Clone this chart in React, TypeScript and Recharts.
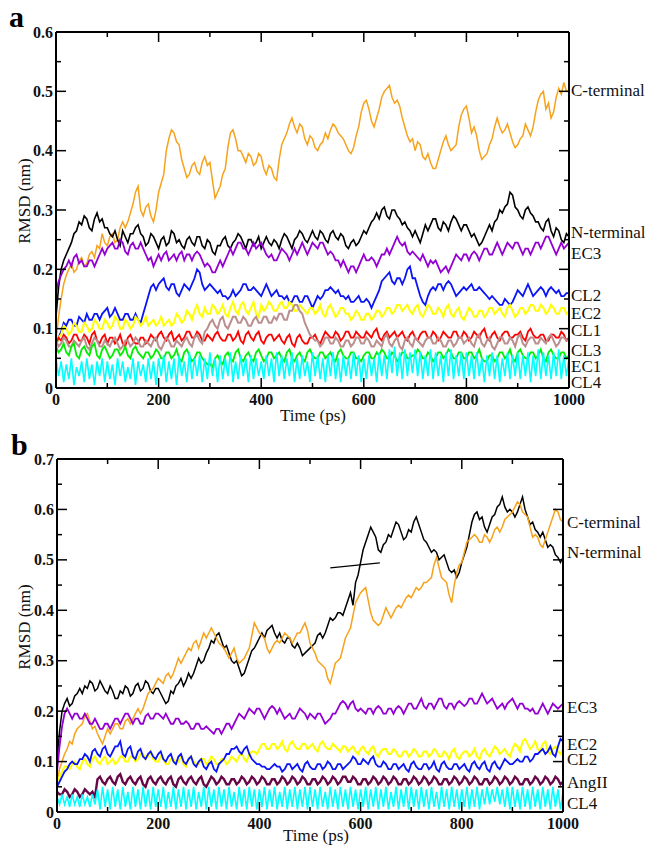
import { Line, LineChart, XAxis, YAxis } from "recharts";

const FONT = '"Liberation Serif", "Times New Roman", serif';

// Time axis, ps (one frame every 5 ps)
const TIME_PS = [
  0, 5, 10, 15, 20, 25, 30, 35, 40, 45, 50, 55, 60, 65, 70, 75, 80, 85, 90, 95,
  100, 105, 110, 115, 120, 125, 130, 135, 140, 145, 150, 155, 160, 165, 170, 175, 180, 185, 190, 195,
  200, 205, 210, 215, 220, 225, 230, 235, 240, 245, 250, 255, 260, 265, 270, 275, 280, 285, 290, 295,
  300, 305, 310, 315, 320, 325, 330, 335, 340, 345, 350, 355, 360, 365, 370, 375, 380, 385, 390, 395,
  400, 405, 410, 415, 420, 425, 430, 435, 440, 445, 450, 455, 460, 465, 470, 475, 480, 485, 490, 495,
  500, 505, 510, 515, 520, 525, 530, 535, 540, 545, 550, 555, 560, 565, 570, 575, 580, 585, 590, 595,
  600, 605, 610, 615, 620, 625, 630, 635, 640, 645, 650, 655, 660, 665, 670, 675, 680, 685, 690, 695,
  700, 705, 710, 715, 720, 725, 730, 735, 740, 745, 750, 755, 760, 765, 770, 775, 780, 785, 790, 795,
  800, 805, 810, 815, 820, 825, 830, 835, 840, 845, 850, 855, 860, 865, 870, 875, 880, 885, 890, 895,
  900, 905, 910, 915, 920, 925, 930, 935, 940, 945, 950, 955, 960, 965, 970, 975, 980, 985, 990, 995,
  1000,
];

const X_TICKS = [0, 100, 200, 300, 400, 500, 600, 700, 800, 900, 1000];
const Y_TICKS_A = [0, 0.05, 0.1, 0.15, 0.2, 0.25, 0.3, 0.35, 0.4, 0.45, 0.5, 0.55, 0.6];
const Y_TICKS_B = [0, 0.05, 0.1, 0.15, 0.2, 0.25, 0.3, 0.35, 0.4, 0.45, 0.5, 0.55, 0.6, 0.65, 0.7];

// ---- panel a, RMSD (nm) ----
const A_CTERM = [
  0.08, 0.12, 0.15, 0.175, 0.19, 0.2, 0.21, 0.195, 0.2, 0.215, 0.22, 0.205, 0.21, 0.225, 0.23, 0.22, 0.24, 0.235, 0.26, 0.245,
  0.24, 0.255, 0.26, 0.245, 0.25, 0.27, 0.28, 0.27, 0.28, 0.295, 0.31, 0.33, 0.34, 0.3, 0.29, 0.305, 0.31, 0.29, 0.28, 0.3,
  0.33, 0.345, 0.36, 0.4, 0.42, 0.435, 0.43, 0.415, 0.41, 0.385, 0.37, 0.355, 0.36, 0.375, 0.38, 0.365, 0.36, 0.38, 0.39, 0.375,
  0.38, 0.35, 0.32, 0.33, 0.34, 0.36, 0.37, 0.405, 0.43, 0.435, 0.42, 0.4, 0.4, 0.39, 0.38, 0.395, 0.39, 0.375, 0.38, 0.395,
  0.39, 0.37, 0.36, 0.375, 0.37, 0.355, 0.35, 0.385, 0.41, 0.42, 0.43, 0.445, 0.455, 0.44, 0.43, 0.445, 0.44, 0.42, 0.41, 0.425,
  0.42, 0.405, 0.4, 0.41, 0.415, 0.43, 0.42, 0.435, 0.445, 0.44, 0.43, 0.425, 0.42, 0.41, 0.4, 0.395, 0.405, 0.425, 0.44, 0.465,
  0.48, 0.485, 0.47, 0.45, 0.44, 0.455, 0.47, 0.49, 0.5, 0.505, 0.51, 0.49, 0.48, 0.485, 0.475, 0.455, 0.44, 0.425, 0.415, 0.42,
  0.4, 0.415, 0.41, 0.39, 0.385, 0.395, 0.38, 0.37, 0.37, 0.385, 0.4, 0.415, 0.425, 0.41, 0.4, 0.405, 0.41, 0.44, 0.46, 0.47,
  0.475, 0.455, 0.43, 0.44, 0.425, 0.4, 0.385, 0.39, 0.395, 0.41, 0.42, 0.44, 0.455, 0.44, 0.43, 0.435, 0.445, 0.43, 0.415, 0.405,
  0.41, 0.42, 0.425, 0.445, 0.435, 0.425, 0.44, 0.465, 0.485, 0.495, 0.5, 0.47, 0.48, 0.455, 0.465, 0.49, 0.505, 0.495, 0.515, 0.5,
  0.5,
];
const A_NTERM = [
  0.12, 0.17, 0.2, 0.215, 0.225, 0.235, 0.245, 0.26, 0.265, 0.28, 0.275, 0.29, 0.285, 0.27, 0.265, 0.285, 0.295, 0.28, 0.285, 0.27,
  0.27, 0.26, 0.255, 0.265, 0.25, 0.24, 0.265, 0.255, 0.245, 0.26, 0.26, 0.27, 0.275, 0.26, 0.255, 0.24, 0.245, 0.26, 0.255, 0.245,
  0.235, 0.25, 0.255, 0.24, 0.245, 0.265, 0.26, 0.245, 0.25, 0.24, 0.235, 0.25, 0.255, 0.245, 0.24, 0.255, 0.255, 0.24, 0.235, 0.25,
  0.245, 0.23, 0.225, 0.24, 0.24, 0.25, 0.255, 0.24, 0.235, 0.245, 0.25, 0.26, 0.255, 0.245, 0.235, 0.25, 0.25, 0.24, 0.245, 0.255,
  0.235, 0.245, 0.255, 0.245, 0.24, 0.25, 0.245, 0.235, 0.25, 0.26, 0.255, 0.245, 0.235, 0.25, 0.255, 0.265, 0.26, 0.25, 0.245, 0.255,
  0.265, 0.255, 0.25, 0.265, 0.26, 0.25, 0.245, 0.26, 0.265, 0.255, 0.25, 0.26, 0.255, 0.24, 0.235, 0.245, 0.25, 0.24, 0.245, 0.255,
  0.265, 0.26, 0.27, 0.28, 0.285, 0.295, 0.285, 0.3, 0.305, 0.29, 0.285, 0.3, 0.3, 0.29, 0.285, 0.275, 0.28, 0.27, 0.265, 0.255,
  0.265, 0.255, 0.245, 0.26, 0.275, 0.265, 0.275, 0.285, 0.285, 0.27, 0.265, 0.28, 0.275, 0.265, 0.28, 0.29, 0.285, 0.275, 0.265, 0.275,
  0.275, 0.265, 0.255, 0.26, 0.25, 0.24, 0.245, 0.255, 0.265, 0.275, 0.265, 0.28, 0.285, 0.3, 0.295, 0.305, 0.31, 0.33, 0.325, 0.305,
  0.3, 0.29, 0.285, 0.3, 0.305, 0.295, 0.29, 0.28, 0.28, 0.27, 0.265, 0.28, 0.285, 0.265, 0.255, 0.27, 0.265, 0.25, 0.245, 0.26,
  0.255,
];
const A_EC3 = [
  0.16, 0.18, 0.19, 0.2, 0.205, 0.215, 0.205, 0.22, 0.225, 0.21, 0.215, 0.205, 0.205, 0.215, 0.215, 0.205, 0.215, 0.225, 0.235, 0.225,
  0.235, 0.24, 0.245, 0.235, 0.235, 0.25, 0.245, 0.23, 0.225, 0.24, 0.245, 0.235, 0.235, 0.245, 0.235, 0.225, 0.215, 0.22, 0.205, 0.215,
  0.225, 0.215, 0.225, 0.23, 0.215, 0.22, 0.225, 0.215, 0.225, 0.23, 0.215, 0.225, 0.225, 0.215, 0.225, 0.23, 0.225, 0.215, 0.205, 0.21,
  0.205, 0.195, 0.195, 0.205, 0.215, 0.205, 0.215, 0.225, 0.235, 0.225, 0.235, 0.245, 0.245, 0.235, 0.235, 0.225, 0.235, 0.245, 0.235, 0.24,
  0.245, 0.235, 0.225, 0.22, 0.225, 0.215, 0.215, 0.225, 0.235, 0.23, 0.225, 0.215, 0.225, 0.235, 0.225, 0.235, 0.245, 0.235, 0.225, 0.235,
  0.245, 0.24, 0.235, 0.245, 0.245, 0.235, 0.225, 0.23, 0.225, 0.215, 0.215, 0.205, 0.215, 0.205, 0.195, 0.205, 0.205, 0.195, 0.205, 0.215,
  0.225, 0.215, 0.215, 0.22, 0.215, 0.205, 0.215, 0.225, 0.225, 0.235, 0.225, 0.235, 0.245, 0.255, 0.245, 0.24, 0.245, 0.23, 0.225, 0.23,
  0.225, 0.22, 0.215, 0.225, 0.215, 0.205, 0.215, 0.21, 0.215, 0.205, 0.195, 0.2, 0.205, 0.195, 0.205, 0.215, 0.225, 0.22, 0.215, 0.225,
  0.225, 0.215, 0.225, 0.23, 0.225, 0.215, 0.225, 0.235, 0.235, 0.225, 0.225, 0.235, 0.245, 0.235, 0.225, 0.235, 0.245, 0.24, 0.235, 0.245,
  0.245, 0.235, 0.225, 0.235, 0.235, 0.225, 0.235, 0.245, 0.245, 0.235, 0.245, 0.255, 0.255, 0.245, 0.235, 0.225, 0.235, 0.245, 0.235, 0.24,
  0.245,
];
const A_CL2 = [
  0.07, 0.085, 0.095, 0.11, 0.105, 0.115, 0.115, 0.105, 0.105, 0.12, 0.115, 0.11, 0.125, 0.115, 0.115, 0.125, 0.125, 0.115, 0.125, 0.13,
  0.135, 0.12, 0.125, 0.135, 0.125, 0.115, 0.115, 0.125, 0.125, 0.115, 0.115, 0.125, 0.115, 0.11, 0.125, 0.14, 0.155, 0.17, 0.175, 0.165,
  0.175, 0.18, 0.185, 0.17, 0.165, 0.175, 0.175, 0.16, 0.155, 0.165, 0.175, 0.17, 0.165, 0.175, 0.185, 0.2, 0.195, 0.175, 0.165, 0.17,
  0.175, 0.17, 0.165, 0.16, 0.165, 0.155, 0.155, 0.15, 0.155, 0.165, 0.155, 0.16, 0.165, 0.175, 0.175, 0.165, 0.165, 0.17, 0.165, 0.16,
  0.155, 0.165, 0.175, 0.165, 0.155, 0.16, 0.165, 0.155, 0.155, 0.15, 0.155, 0.145, 0.145, 0.155, 0.155, 0.145, 0.145, 0.155, 0.155, 0.145,
  0.135, 0.145, 0.155, 0.15, 0.155, 0.165, 0.165, 0.17, 0.165, 0.16, 0.165, 0.155, 0.155, 0.15, 0.155, 0.145, 0.145, 0.15, 0.155, 0.145,
  0.145, 0.15, 0.145, 0.135, 0.145, 0.155, 0.165, 0.18, 0.185, 0.19, 0.195, 0.18, 0.175, 0.185, 0.185, 0.175, 0.185, 0.2, 0.205, 0.185,
  0.185, 0.17, 0.155, 0.145, 0.14, 0.155, 0.165, 0.17, 0.165, 0.175, 0.175, 0.165, 0.175, 0.18, 0.175, 0.165, 0.155, 0.16, 0.165, 0.17,
  0.165, 0.17, 0.175, 0.165, 0.165, 0.17, 0.165, 0.16, 0.155, 0.15, 0.155, 0.15, 0.145, 0.14, 0.14, 0.15, 0.145, 0.14, 0.145, 0.155,
  0.165, 0.16, 0.155, 0.165, 0.175, 0.165, 0.155, 0.16, 0.165, 0.17, 0.165, 0.155, 0.165, 0.17, 0.165, 0.16, 0.165, 0.155, 0.155, 0.16,
  0.16,
];
const A_EC2 = [
  0.07, 0.085, 0.09, 0.105, 0.1, 0.09, 0.095, 0.11, 0.105, 0.095, 0.095, 0.11, 0.105, 0.095, 0.1, 0.115, 0.11, 0.1, 0.1, 0.115,
  0.11, 0.1, 0.105, 0.12, 0.115, 0.1, 0.1, 0.115, 0.11, 0.1, 0.105, 0.12, 0.115, 0.105, 0.11, 0.12, 0.105, 0.11, 0.115, 0.105,
  0.11, 0.12, 0.105, 0.11, 0.115, 0.105, 0.11, 0.125, 0.12, 0.11, 0.115, 0.13, 0.125, 0.115, 0.13, 0.14, 0.125, 0.12, 0.135, 0.125,
  0.125, 0.14, 0.135, 0.125, 0.13, 0.14, 0.125, 0.12, 0.135, 0.145, 0.13, 0.125, 0.14, 0.145, 0.13, 0.125, 0.135, 0.145, 0.125, 0.12,
  0.14, 0.13, 0.135, 0.145, 0.14, 0.13, 0.13, 0.14, 0.145, 0.135, 0.135, 0.145, 0.14, 0.13, 0.13, 0.14, 0.135, 0.13, 0.125, 0.135,
  0.135, 0.125, 0.13, 0.14, 0.125, 0.12, 0.135, 0.14, 0.13, 0.12, 0.125, 0.135, 0.135, 0.125, 0.125, 0.115, 0.12, 0.13, 0.125, 0.115,
  0.115, 0.125, 0.125, 0.115, 0.12, 0.13, 0.13, 0.12, 0.125, 0.135, 0.135, 0.125, 0.13, 0.14, 0.14, 0.13, 0.135, 0.14, 0.13, 0.125,
  0.135, 0.14, 0.125, 0.12, 0.13, 0.14, 0.135, 0.125, 0.125, 0.135, 0.13, 0.12, 0.135, 0.14, 0.125, 0.12, 0.13, 0.135, 0.12, 0.115,
  0.125, 0.135, 0.13, 0.12, 0.12, 0.13, 0.13, 0.12, 0.125, 0.135, 0.135, 0.125, 0.13, 0.135, 0.125, 0.12, 0.135, 0.14, 0.13, 0.12,
  0.125, 0.135, 0.135, 0.125, 0.13, 0.14, 0.14, 0.13, 0.13, 0.14, 0.135, 0.125, 0.13, 0.14, 0.135, 0.125, 0.125, 0.135, 0.135, 0.125,
  0.13,
];
const A_CL1 = [
  0.075, 0.085, 0.08, 0.09, 0.085, 0.075, 0.08, 0.09, 0.09, 0.08, 0.08, 0.09, 0.085, 0.075, 0.09, 0.095, 0.08, 0.075, 0.085, 0.09,
  0.075, 0.085, 0.085, 0.075, 0.08, 0.09, 0.075, 0.07, 0.085, 0.09, 0.08, 0.075, 0.075, 0.085, 0.085, 0.075, 0.08, 0.09, 0.085, 0.08,
  0.09, 0.095, 0.085, 0.08, 0.09, 0.095, 0.08, 0.085, 0.09, 0.08, 0.085, 0.095, 0.095, 0.085, 0.085, 0.095, 0.09, 0.08, 0.08, 0.09,
  0.085, 0.08, 0.09, 0.095, 0.085, 0.08, 0.08, 0.09, 0.09, 0.08, 0.085, 0.095, 0.08, 0.075, 0.09, 0.095, 0.085, 0.08, 0.09, 0.095,
  0.08, 0.075, 0.085, 0.09, 0.09, 0.08, 0.085, 0.09, 0.08, 0.075, 0.085, 0.09, 0.075, 0.07, 0.085, 0.09, 0.08, 0.075, 0.075, 0.085,
  0.085, 0.09, 0.08, 0.075, 0.085, 0.095, 0.09, 0.085, 0.085, 0.095, 0.09, 0.08, 0.085, 0.095, 0.095, 0.085, 0.085, 0.095, 0.09, 0.085,
  0.085, 0.095, 0.09, 0.085, 0.095, 0.1, 0.085, 0.08, 0.09, 0.095, 0.085, 0.09, 0.095, 0.085, 0.09, 0.095, 0.085, 0.08, 0.09, 0.095,
  0.085, 0.08, 0.09, 0.095, 0.095, 0.085, 0.085, 0.095, 0.09, 0.08, 0.085, 0.095, 0.09, 0.085, 0.085, 0.095, 0.095, 0.085, 0.085, 0.095,
  0.09, 0.08, 0.085, 0.095, 0.09, 0.085, 0.095, 0.1, 0.085, 0.08, 0.09, 0.095, 0.085, 0.08, 0.09, 0.095, 0.095, 0.085, 0.085, 0.09,
  0.09, 0.095, 0.085, 0.08, 0.095, 0.1, 0.09, 0.085, 0.085, 0.09, 0.09, 0.08, 0.08, 0.09, 0.09, 0.085, 0.085, 0.095, 0.09, 0.08,
  0.085,
];
const A_CL3 = [
  0.08, 0.07, 0.075, 0.085, 0.08, 0.07, 0.07, 0.08, 0.075, 0.07, 0.08, 0.085, 0.07, 0.065, 0.075, 0.085, 0.08, 0.07, 0.07, 0.08,
  0.075, 0.07, 0.08, 0.085, 0.075, 0.065, 0.07, 0.08, 0.08, 0.07, 0.075, 0.085, 0.08, 0.07, 0.07, 0.08, 0.075, 0.07, 0.08, 0.085,
  0.07, 0.065, 0.075, 0.085, 0.08, 0.07, 0.07, 0.08, 0.075, 0.07, 0.08, 0.085, 0.075, 0.07, 0.085, 0.09, 0.08, 0.075, 0.095, 0.1,
  0.11, 0.115, 0.105, 0.1, 0.115, 0.12, 0.105, 0.1, 0.11, 0.12, 0.12, 0.11, 0.11, 0.12, 0.115, 0.105, 0.105, 0.115, 0.12, 0.11,
  0.11, 0.12, 0.12, 0.11, 0.11, 0.12, 0.115, 0.125, 0.125, 0.115, 0.115, 0.13, 0.13, 0.14, 0.14, 0.13, 0.125, 0.11, 0.1, 0.09,
  0.085, 0.08, 0.08, 0.07, 0.075, 0.085, 0.085, 0.075, 0.075, 0.085, 0.08, 0.07, 0.07, 0.08, 0.08, 0.07, 0.075, 0.085, 0.085, 0.075,
  0.075, 0.085, 0.08, 0.07, 0.07, 0.08, 0.075, 0.07, 0.085, 0.09, 0.075, 0.07, 0.08, 0.085, 0.07, 0.065, 0.08, 0.085, 0.075, 0.07,
  0.085, 0.08, 0.075, 0.07, 0.08, 0.085, 0.085, 0.075, 0.075, 0.085, 0.08, 0.07, 0.07, 0.08, 0.08, 0.07, 0.075, 0.085, 0.085, 0.075,
  0.08, 0.085, 0.075, 0.07, 0.085, 0.09, 0.075, 0.07, 0.08, 0.085, 0.07, 0.065, 0.075, 0.085, 0.085, 0.075, 0.075, 0.085, 0.08, 0.07,
  0.085, 0.09, 0.075, 0.07, 0.08, 0.085, 0.085, 0.075, 0.075, 0.085, 0.08, 0.075, 0.085, 0.09, 0.08, 0.07, 0.075, 0.085, 0.085, 0.08,
  0.08,
];
const A_EC1 = [
  0.07, 0.06, 0.065, 0.075, 0.06, 0.055, 0.07, 0.075, 0.055, 0.05, 0.065, 0.07, 0.06, 0.055, 0.07, 0.075, 0.055, 0.05, 0.065, 0.07,
  0.06, 0.05, 0.055, 0.065, 0.065, 0.055, 0.06, 0.07, 0.055, 0.05, 0.065, 0.07, 0.06, 0.055, 0.05, 0.06, 0.06, 0.05, 0.055, 0.065,
  0.06, 0.05, 0.05, 0.06, 0.06, 0.05, 0.055, 0.065, 0.05, 0.045, 0.06, 0.065, 0.055, 0.045, 0.05, 0.06, 0.06, 0.05, 0.045, 0.04,
  0.04, 0.035, 0.05, 0.055, 0.045, 0.04, 0.055, 0.06, 0.05, 0.045, 0.06, 0.065, 0.05, 0.045, 0.055, 0.06, 0.05, 0.045, 0.06, 0.065,
  0.055, 0.045, 0.05, 0.06, 0.06, 0.05, 0.055, 0.06, 0.05, 0.045, 0.06, 0.065, 0.05, 0.045, 0.055, 0.06, 0.05, 0.045, 0.06, 0.065,
  0.055, 0.05, 0.05, 0.06, 0.06, 0.05, 0.055, 0.06, 0.05, 0.045, 0.06, 0.065, 0.055, 0.05, 0.05, 0.06, 0.06, 0.05, 0.05, 0.045,
  0.055, 0.06, 0.06, 0.05, 0.05, 0.06, 0.055, 0.065, 0.06, 0.05, 0.05, 0.06, 0.055, 0.045, 0.05, 0.06, 0.06, 0.05, 0.05, 0.055,
  0.055, 0.065, 0.06, 0.05, 0.05, 0.06, 0.055, 0.045, 0.05, 0.06, 0.06, 0.05, 0.055, 0.065, 0.06, 0.05, 0.05, 0.06, 0.06, 0.05,
  0.05, 0.06, 0.06, 0.05, 0.055, 0.065, 0.05, 0.045, 0.045, 0.055, 0.055, 0.045, 0.05, 0.06, 0.06, 0.05, 0.055, 0.065, 0.05, 0.045,
  0.06, 0.065, 0.055, 0.05, 0.05, 0.06, 0.06, 0.05, 0.055, 0.065, 0.05, 0.045, 0.06, 0.065, 0.055, 0.05, 0.05, 0.06, 0.06, 0.05,
  0.055,
];
const A_CL4 = [
  0.05, 0.02, 0.045, 0.01, 0.04, 0.015, 0.05, 0.005, 0.035, 0.02, 0.045, 0.01, 0.05, 0.015, 0.04, 0.005, 0.045, 0.02, 0.05, 0.01,
  0.045, 0.015, 0.04, 0.005, 0.05, 0.02, 0.045, 0.01, 0.035, 0.015, 0.05, 0.005, 0.045, 0.02, 0.04, 0.01, 0.05, 0.015, 0.045, 0.005,
  0.05, 0.02, 0.055, 0.01, 0.045, 0.015, 0.05, 0.005, 0.055, 0.02, 0.045, 0.01, 0.06, 0.015, 0.05, 0.02, 0.055, 0.01, 0.05, 0.015,
  0.06, 0.02, 0.05, 0.01, 0.055, 0.015, 0.05, 0.02, 0.06, 0.01, 0.045, 0.015, 0.055, 0.02, 0.05, 0.01, 0.055, 0.015, 0.05, 0.02,
  0.045, 0.015, 0.055, 0.02, 0.05, 0.01, 0.06, 0.02, 0.055, 0.015, 0.05, 0.02, 0.06, 0.01, 0.05, 0.015, 0.055, 0.02, 0.045, 0.01,
  0.06, 0.02, 0.055, 0.015, 0.05, 0.01, 0.055, 0.02, 0.06, 0.015, 0.05, 0.01, 0.055, 0.02, 0.05, 0.015, 0.06, 0.02, 0.055, 0.01,
  0.05, 0.015, 0.055, 0.02, 0.05, 0.01, 0.06, 0.02, 0.055, 0.015, 0.065, 0.025, 0.07, 0.02, 0.06, 0.015, 0.065, 0.02, 0.06, 0.025,
  0.065, 0.02, 0.06, 0.015, 0.055, 0.02, 0.065, 0.015, 0.06, 0.02, 0.055, 0.01, 0.06, 0.02, 0.065, 0.015, 0.055, 0.02, 0.06, 0.015,
  0.06, 0.02, 0.055, 0.015, 0.06, 0.02, 0.05, 0.01, 0.055, 0.02, 0.06, 0.015, 0.055, 0.01, 0.05, 0.02, 0.06, 0.015, 0.055, 0.02,
  0.06, 0.015, 0.055, 0.02, 0.06, 0.01, 0.055, 0.02, 0.065, 0.015, 0.06, 0.02, 0.055, 0.015, 0.06, 0.02, 0.065, 0.015, 0.055, 0.02,
  0.05,
];

// ---- panel b, RMSD (nm) ----
const B_NTERM = [
  0.1, 0.16, 0.2, 0.215, 0.225, 0.21, 0.215, 0.23, 0.235, 0.245, 0.235, 0.25, 0.245, 0.26, 0.255, 0.24, 0.245, 0.26, 0.25, 0.24,
  0.235, 0.25, 0.24, 0.225, 0.225, 0.24, 0.235, 0.25, 0.245, 0.23, 0.235, 0.25, 0.255, 0.24, 0.245, 0.26, 0.255, 0.24, 0.235, 0.245,
  0.245, 0.235, 0.225, 0.215, 0.22, 0.24, 0.235, 0.25, 0.255, 0.265, 0.25, 0.26, 0.275, 0.265, 0.275, 0.29, 0.305, 0.295, 0.3, 0.315,
  0.325, 0.34, 0.335, 0.35, 0.355, 0.34, 0.325, 0.33, 0.315, 0.3, 0.295, 0.3, 0.285, 0.27, 0.275, 0.29, 0.305, 0.32, 0.325, 0.335,
  0.345, 0.355, 0.345, 0.36, 0.365, 0.37, 0.355, 0.345, 0.355, 0.34, 0.335, 0.345, 0.345, 0.33, 0.325, 0.335, 0.325, 0.31, 0.315, 0.32,
  0.325, 0.33, 0.335, 0.35, 0.355, 0.345, 0.355, 0.37, 0.385, 0.38, 0.385, 0.395, 0.395, 0.39, 0.405, 0.42, 0.435, 0.41, 0.455, 0.47,
  0.495, 0.52, 0.535, 0.55, 0.565, 0.555, 0.545, 0.52, 0.515, 0.53, 0.535, 0.55, 0.545, 0.56, 0.575, 0.57, 0.555, 0.54, 0.545, 0.56,
  0.555, 0.575, 0.585, 0.57, 0.555, 0.54, 0.535, 0.525, 0.515, 0.52, 0.515, 0.5, 0.505, 0.51, 0.495, 0.48, 0.475, 0.48, 0.465, 0.475,
  0.495, 0.51, 0.525, 0.55, 0.575, 0.59, 0.595, 0.58, 0.585, 0.565, 0.555, 0.57, 0.585, 0.59, 0.605, 0.61, 0.625, 0.605, 0.595, 0.6,
  0.595, 0.585, 0.595, 0.61, 0.625, 0.6, 0.585, 0.57, 0.575, 0.56, 0.555, 0.545, 0.555, 0.54, 0.525, 0.53, 0.525, 0.51, 0.505, 0.495,
  0.505,
];
const B_CTERM = [
  0.06, 0.085, 0.1, 0.115, 0.125, 0.14, 0.135, 0.155, 0.165, 0.17, 0.175, 0.19, 0.195, 0.18, 0.165, 0.17, 0.155, 0.145, 0.135, 0.15,
  0.165, 0.155, 0.165, 0.175, 0.175, 0.165, 0.165, 0.18, 0.185, 0.175, 0.185, 0.195, 0.205, 0.195, 0.205, 0.22, 0.235, 0.24, 0.245, 0.255,
  0.265, 0.26, 0.255, 0.27, 0.275, 0.265, 0.275, 0.29, 0.305, 0.295, 0.305, 0.315, 0.325, 0.32, 0.335, 0.34, 0.325, 0.34, 0.355, 0.345,
  0.355, 0.365, 0.355, 0.345, 0.335, 0.33, 0.325, 0.315, 0.305, 0.315, 0.325, 0.305, 0.295, 0.3, 0.305, 0.315, 0.325, 0.35, 0.375, 0.365,
  0.355, 0.35, 0.345, 0.325, 0.315, 0.325, 0.335, 0.34, 0.335, 0.345, 0.355, 0.35, 0.345, 0.335, 0.345, 0.355, 0.355, 0.365, 0.375, 0.36,
  0.335, 0.325, 0.315, 0.3, 0.295, 0.29, 0.285, 0.265, 0.255, 0.275, 0.295, 0.3, 0.305, 0.325, 0.345, 0.355, 0.365, 0.39, 0.415, 0.425,
  0.435, 0.44, 0.445, 0.42, 0.395, 0.38, 0.375, 0.37, 0.375, 0.39, 0.405, 0.395, 0.385, 0.395, 0.405, 0.41, 0.405, 0.415, 0.425, 0.43,
  0.425, 0.435, 0.445, 0.44, 0.445, 0.455, 0.455, 0.46, 0.465, 0.49, 0.505, 0.485, 0.465, 0.46, 0.455, 0.43, 0.415, 0.45, 0.475, 0.49,
  0.495, 0.515, 0.535, 0.54, 0.545, 0.55, 0.545, 0.535, 0.535, 0.55, 0.545, 0.535, 0.545, 0.56, 0.565, 0.555, 0.565, 0.58, 0.585, 0.59,
  0.595, 0.605, 0.615, 0.61, 0.595, 0.59, 0.585, 0.565, 0.545, 0.55, 0.545, 0.53, 0.525, 0.54, 0.555, 0.57, 0.585, 0.6, 0.595, 0.58,
  0.575,
];
const B_EC3 = [
  0.08, 0.13, 0.17, 0.195, 0.205, 0.195, 0.185, 0.195, 0.195, 0.185, 0.185, 0.195, 0.185, 0.175, 0.175, 0.185, 0.175, 0.165, 0.165, 0.175,
  0.175, 0.165, 0.175, 0.185, 0.185, 0.175, 0.185, 0.195, 0.195, 0.185, 0.175, 0.185, 0.185, 0.175, 0.175, 0.19, 0.195, 0.185, 0.185, 0.195,
  0.195, 0.19, 0.185, 0.195, 0.185, 0.175, 0.175, 0.185, 0.185, 0.175, 0.175, 0.18, 0.175, 0.165, 0.165, 0.175, 0.175, 0.165, 0.165, 0.17,
  0.165, 0.16, 0.155, 0.165, 0.165, 0.155, 0.165, 0.175, 0.175, 0.165, 0.175, 0.185, 0.195, 0.19, 0.185, 0.195, 0.205, 0.2, 0.195, 0.205,
  0.205, 0.195, 0.185, 0.195, 0.205, 0.21, 0.205, 0.195, 0.205, 0.195, 0.185, 0.19, 0.195, 0.185, 0.185, 0.195, 0.205, 0.2, 0.195, 0.185,
  0.195, 0.19, 0.185, 0.195, 0.195, 0.185, 0.175, 0.18, 0.185, 0.195, 0.195, 0.205, 0.215, 0.22, 0.215, 0.205, 0.215, 0.22, 0.205, 0.2,
  0.205, 0.2, 0.195, 0.205, 0.205, 0.195, 0.205, 0.21, 0.205, 0.195, 0.195, 0.205, 0.205, 0.195, 0.205, 0.21, 0.205, 0.195, 0.205, 0.215,
  0.215, 0.205, 0.205, 0.215, 0.225, 0.21, 0.205, 0.215, 0.215, 0.205, 0.215, 0.225, 0.225, 0.21, 0.205, 0.215, 0.215, 0.205, 0.215, 0.22,
  0.215, 0.21, 0.215, 0.225, 0.225, 0.215, 0.215, 0.225, 0.235, 0.225, 0.215, 0.22, 0.225, 0.215, 0.205, 0.21, 0.215, 0.205, 0.215, 0.22,
  0.225, 0.215, 0.205, 0.215, 0.215, 0.205, 0.205, 0.2, 0.205, 0.195, 0.195, 0.205, 0.215, 0.205, 0.195, 0.205, 0.215, 0.21, 0.205, 0.21,
  0.215,
];
const B_EC2 = [
  0.06, 0.07, 0.08, 0.09, 0.09, 0.085, 0.095, 0.1, 0.09, 0.085, 0.1, 0.105, 0.095, 0.09, 0.105, 0.11, 0.1, 0.095, 0.105, 0.11,
  0.095, 0.1, 0.105, 0.095, 0.1, 0.11, 0.11, 0.1, 0.1, 0.11, 0.11, 0.1, 0.105, 0.115, 0.115, 0.105, 0.11, 0.12, 0.105, 0.1,
  0.1, 0.11, 0.105, 0.095, 0.095, 0.105, 0.105, 0.095, 0.1, 0.11, 0.095, 0.09, 0.105, 0.11, 0.1, 0.095, 0.095, 0.105, 0.105, 0.095,
  0.1, 0.11, 0.105, 0.095, 0.095, 0.105, 0.105, 0.095, 0.1, 0.11, 0.105, 0.1, 0.11, 0.12, 0.105, 0.1, 0.115, 0.12, 0.12, 0.115,
  0.125, 0.135, 0.135, 0.125, 0.125, 0.135, 0.135, 0.125, 0.13, 0.14, 0.125, 0.12, 0.135, 0.14, 0.13, 0.125, 0.125, 0.135, 0.135, 0.125,
  0.13, 0.135, 0.125, 0.12, 0.135, 0.14, 0.13, 0.125, 0.125, 0.135, 0.13, 0.125, 0.12, 0.13, 0.13, 0.12, 0.125, 0.13, 0.12, 0.115,
  0.125, 0.13, 0.12, 0.115, 0.125, 0.13, 0.115, 0.11, 0.12, 0.125, 0.125, 0.115, 0.115, 0.125, 0.12, 0.11, 0.11, 0.12, 0.12, 0.11,
  0.115, 0.125, 0.12, 0.11, 0.11, 0.12, 0.12, 0.11, 0.115, 0.125, 0.12, 0.11, 0.11, 0.12, 0.115, 0.105, 0.12, 0.125, 0.11, 0.105,
  0.115, 0.12, 0.12, 0.11, 0.115, 0.125, 0.11, 0.105, 0.12, 0.125, 0.115, 0.11, 0.12, 0.13, 0.125, 0.115, 0.12, 0.125, 0.115, 0.11,
  0.125, 0.135, 0.13, 0.12, 0.14, 0.145, 0.135, 0.125, 0.13, 0.14, 0.125, 0.12, 0.135, 0.14, 0.12, 0.115, 0.125, 0.13, 0.12, 0.115,
  0.125,
];
const B_CL2 = [
  0.05, 0.06, 0.07, 0.08, 0.085, 0.095, 0.1, 0.095, 0.095, 0.105, 0.105, 0.115, 0.11, 0.1, 0.12, 0.125, 0.115, 0.11, 0.125, 0.13,
  0.115, 0.11, 0.12, 0.13, 0.13, 0.14, 0.115, 0.11, 0.125, 0.13, 0.11, 0.105, 0.12, 0.125, 0.11, 0.105, 0.115, 0.12, 0.11, 0.105,
  0.115, 0.12, 0.105, 0.1, 0.11, 0.115, 0.1, 0.095, 0.11, 0.115, 0.1, 0.095, 0.105, 0.11, 0.095, 0.09, 0.1, 0.105, 0.09, 0.085,
  0.095, 0.1, 0.085, 0.08, 0.095, 0.1, 0.105, 0.115, 0.115, 0.125, 0.125, 0.13, 0.12, 0.115, 0.125, 0.13, 0.115, 0.105, 0.1, 0.095,
  0.095, 0.09, 0.09, 0.085, 0.085, 0.09, 0.095, 0.09, 0.09, 0.08, 0.085, 0.095, 0.095, 0.085, 0.09, 0.095, 0.085, 0.08, 0.095, 0.1,
  0.09, 0.085, 0.085, 0.095, 0.095, 0.085, 0.09, 0.1, 0.095, 0.085, 0.085, 0.095, 0.095, 0.085, 0.09, 0.095, 0.1, 0.11, 0.105, 0.095,
  0.095, 0.105, 0.1, 0.095, 0.105, 0.11, 0.095, 0.09, 0.09, 0.1, 0.095, 0.085, 0.085, 0.095, 0.095, 0.085, 0.09, 0.095, 0.085, 0.08,
  0.095, 0.1, 0.09, 0.085, 0.085, 0.095, 0.095, 0.085, 0.09, 0.1, 0.085, 0.08, 0.095, 0.1, 0.09, 0.085, 0.085, 0.095, 0.095, 0.085,
  0.09, 0.095, 0.085, 0.08, 0.095, 0.1, 0.09, 0.085, 0.095, 0.1, 0.085, 0.08, 0.095, 0.1, 0.09, 0.085, 0.095, 0.105, 0.1, 0.095,
  0.095, 0.1, 0.105, 0.1, 0.1, 0.11, 0.11, 0.1, 0.105, 0.115, 0.115, 0.12, 0.125, 0.115, 0.12, 0.13, 0.115, 0.11, 0.13, 0.145,
  0.14,
];
const B_ANGII = [
  0.04, 0.035, 0.035, 0.045, 0.04, 0.03, 0.035, 0.045, 0.04, 0.03, 0.035, 0.045, 0.04, 0.035, 0.04, 0.03, 0.065, 0.07, 0.06, 0.055,
  0.065, 0.07, 0.06, 0.055, 0.07, 0.075, 0.06, 0.055, 0.065, 0.07, 0.06, 0.055, 0.065, 0.07, 0.055, 0.05, 0.065, 0.07, 0.06, 0.055,
  0.065, 0.07, 0.06, 0.055, 0.065, 0.07, 0.055, 0.05, 0.065, 0.07, 0.06, 0.055, 0.065, 0.07, 0.06, 0.055, 0.065, 0.07, 0.055, 0.05,
  0.06, 0.07, 0.065, 0.055, 0.06, 0.07, 0.065, 0.055, 0.055, 0.065, 0.065, 0.055, 0.06, 0.07, 0.065, 0.055, 0.06, 0.07, 0.065, 0.055,
  0.06, 0.07, 0.065, 0.055, 0.055, 0.065, 0.065, 0.055, 0.06, 0.07, 0.065, 0.055, 0.06, 0.07, 0.065, 0.055, 0.06, 0.07, 0.065, 0.055,
  0.055, 0.065, 0.065, 0.055, 0.06, 0.07, 0.065, 0.055, 0.06, 0.07, 0.065, 0.055, 0.06, 0.07, 0.07, 0.06, 0.06, 0.07, 0.065, 0.055,
  0.055, 0.065, 0.065, 0.055, 0.06, 0.07, 0.065, 0.055, 0.06, 0.07, 0.065, 0.055, 0.06, 0.07, 0.065, 0.055, 0.055, 0.065, 0.065, 0.055,
  0.06, 0.07, 0.065, 0.055, 0.06, 0.07, 0.065, 0.055, 0.06, 0.07, 0.065, 0.055, 0.055, 0.065, 0.065, 0.055, 0.06, 0.07, 0.065, 0.055,
  0.06, 0.07, 0.065, 0.055, 0.06, 0.07, 0.065, 0.055, 0.055, 0.065, 0.065, 0.055, 0.06, 0.07, 0.065, 0.055, 0.06, 0.07, 0.065, 0.055,
  0.06, 0.07, 0.065, 0.055, 0.055, 0.065, 0.065, 0.055, 0.06, 0.07, 0.065, 0.055, 0.06, 0.07, 0.065, 0.055, 0.06, 0.07, 0.065, 0.055,
  0.06,
];
const B_CL4 = [
  0.03, 0.015, 0.035, 0.015, 0.03, 0.01, 0.035, 0.015, 0.03, 0.01, 0.035, 0.015, 0.03, 0.01, 0.035, 0.015, 0.045, 0.005, 0.05, 0.01,
  0.045, 0.005, 0.05, 0.01, 0.045, 0.005, 0.05, 0.01, 0.04, 0.005, 0.05, 0.01, 0.045, 0.005, 0.05, 0.01, 0.045, 0.005, 0.05, 0.01,
  0.045, 0.01, 0.05, 0.005, 0.04, 0.01, 0.05, 0.005, 0.045, 0.01, 0.05, 0.005, 0.045, 0.01, 0.05, 0.005, 0.04, 0.01, 0.05, 0.005,
  0.05, 0.01, 0.045, 0.005, 0.05, 0.01, 0.045, 0.005, 0.05, 0.01, 0.04, 0.005, 0.05, 0.01, 0.045, 0.005, 0.05, 0.01, 0.045, 0.005,
  0.045, 0.01, 0.05, 0.005, 0.045, 0.01, 0.05, 0.005, 0.04, 0.01, 0.05, 0.005, 0.045, 0.01, 0.05, 0.005, 0.045, 0.01, 0.05, 0.005,
  0.05, 0.01, 0.045, 0.005, 0.05, 0.01, 0.04, 0.005, 0.05, 0.01, 0.045, 0.005, 0.05, 0.01, 0.045, 0.005, 0.05, 0.01, 0.045, 0.005,
  0.045, 0.01, 0.05, 0.005, 0.045, 0.01, 0.05, 0.005, 0.045, 0.01, 0.05, 0.005, 0.04, 0.01, 0.05, 0.005, 0.045, 0.01, 0.05, 0.005,
  0.05, 0.01, 0.045, 0.005, 0.05, 0.01, 0.045, 0.005, 0.05, 0.01, 0.04, 0.005, 0.05, 0.01, 0.045, 0.005, 0.05, 0.01, 0.045, 0.005,
  0.045, 0.01, 0.05, 0.005, 0.045, 0.01, 0.05, 0.005, 0.045, 0.015, 0.05, 0.015, 0.045, 0.02, 0.05, 0.015, 0.045, 0.01, 0.05, 0.005,
  0.05, 0.01, 0.045, 0.005, 0.05, 0.01, 0.045, 0.005, 0.05, 0.01, 0.045, 0.005, 0.05, 0.01, 0.045, 0.005, 0.05, 0.01, 0.045, 0.005,
  0.04,
];
// stray straight segment drawn across the N-terminal trace in panel b
const B_STRAY_T = [540, 638];
const B_STRAY_V = [0.484, 0.494];

interface Series {
  name: string;
  color: string;
  width: number;
  values: number[];
}

// drawing order = list order (later ones on top)
const SERIES_A: Series[] = [
  { name: "C-terminal", color: "#f7a21b", width: 1.5, values: A_CTERM },
  { name: "N-terminal", color: "#000000", width: 1.6, values: A_NTERM },
  { name: "EC3", color: "#9400d3", width: 1.8, values: A_EC3 },
  { name: "CL2", color: "#0a14f5", width: 1.8, values: A_CL2 },
  { name: "EC2", color: "#ffff00", width: 2, values: A_EC2 },
  { name: "CL1", color: "#ff0000", width: 1.8, values: A_CL1 },
  { name: "CL3", color: "#bc8f8f", width: 2, values: A_CL3 },
  { name: "EC1", color: "#00ee00", width: 1.8, values: A_EC1 },
  { name: "CL4", color: "#00ffff", width: 1.6, values: A_CL4 },
];

const SERIES_B: Series[] = [
  { name: "N-terminal", color: "#000000", width: 1.5, values: B_NTERM },
  { name: "C-terminal", color: "#f7a21b", width: 1.5, values: B_CTERM },
  { name: "EC3", color: "#9400d3", width: 1.8, values: B_EC3 },
  { name: "EC2", color: "#ffff00", width: 2, values: B_EC2 },
  { name: "CL2", color: "#0a14f5", width: 1.8, values: B_CL2 },
  { name: "AngII", color: "#670748", width: 2.4, values: B_ANGII },
  { name: "CL4", color: "#00ffff", width: 1.6, values: B_CL4 },
];

// end labels: page y of the text centre
const LABELS_A = [
  { text: "C-terminal", y: 90 },
  { text: "N-terminal", y: 232 },
  { text: "EC3", y: 253 },
  { text: "CL2", y: 295 },
  { text: "EC2", y: 313 },
  { text: "CL1", y: 330 },
  { text: "CL3", y: 350 },
  { text: "EC1", y: 366 },
  { text: "CL4", y: 382 },
];
const LABELS_B = [
  { text: "C-terminal", y: 522 },
  { text: "N-terminal", y: 552 },
  { text: "EC3", y: 707 },
  { text: "EC2", y: 744 },
  { text: "CL2", y: 759 },
  { text: "AngII", y: 782 },
  { text: "CL4", y: 803 },
];

const toRows = (times: number[], values: number[]) => times.map((t, i) => ({ t, v: values[i] }));
const STRAY_ROWS = toRows(B_STRAY_T, B_STRAY_V);

const AXIS_LINE = { stroke: "#000", strokeWidth: 2 };
const TICK_FONT = { fontFamily: FONT, fontSize: 16, fontWeight: 700, fill: "#111" };
const MAJOR = 10;
const MINOR = 5;

const isMajorY = (v: number) => Math.abs(v * 10 - Math.round(v * 10)) < 1e-6;

function BottomTick({ x, y, payload }: any) {
  const major = payload.value % 200 === 0;
  return (
    <g>
      <line x1={x} x2={x} y1={y} y2={y - (major ? MAJOR : MINOR)} stroke="#000" strokeWidth={1.5} />
      {major && (
        <text x={x} y={y + 17} textAnchor="middle" {...TICK_FONT}>
          {payload.value}
        </text>
      )}
    </g>
  );
}

function TopTick({ x, y, payload }: any) {
  const major = payload.value % 200 === 0;
  return <line x1={x} x2={x} y1={y} y2={y + (major ? MAJOR : MINOR)} stroke="#000" strokeWidth={1.5} />;
}

function LeftTick({ x, y, payload }: any) {
  const major = isMajorY(payload.value);
  return (
    <g>
      <line x1={x} x2={x + (major ? MAJOR : MINOR)} y1={y} y2={y} stroke="#000" strokeWidth={1.5} />
      {major && (
        <text x={x - 3} y={y + 5.5} textAnchor="end" {...TICK_FONT}>
          {payload.value === 0 ? "0" : payload.value.toFixed(1)}
        </text>
      )}
    </g>
  );
}

function RightTick({ x, y, payload }: any) {
  const major = isMajorY(payload.value);
  return <line x1={x} x2={x - (major ? MAJOR : MINOR)} y1={y} y2={y} stroke="#000" strokeWidth={1.5} />;
}

function RmsdPanel({
  series,
  yMax,
  yTicks,
  height,
  margin,
  stray,
}: {
  series: Series[];
  yMax: number;
  yTicks: number[];
  height: number;
  margin: { top: number; right: number; bottom: number; left: number };
  stray?: boolean;
}) {
  const common = {
    type: "number" as const,
    interval: 0 as const,
    tickSize: 0,
    tickMargin: 0,
    tickLine: false,
    axisLine: AXIS_LINE,
    allowDataOverflow: true,
  };
  return (
    <LineChart width={650} height={height} margin={margin}>
      <XAxis {...common} dataKey="t" domain={[0, 1000]} ticks={X_TICKS} height={1} tick={(p: any) => <BottomTick {...p} />} />
      <XAxis
        {...common}
        xAxisId="top"
        orientation="top"
        dataKey="t"
        domain={[0, 1000]}
        ticks={X_TICKS}
        height={1}
        tick={(p: any) => <TopTick {...p} />}
      />
      <YAxis {...common} domain={[0, yMax]} ticks={yTicks} width={1} tick={(p: any) => <LeftTick {...p} />} />
      <YAxis
        {...common}
        yAxisId="right"
        orientation="right"
        domain={[0, yMax]}
        ticks={yTicks}
        width={1}
        tick={(p: any) => <RightTick {...p} />}
      />
      {series.map((s) => (
        <Line
          key={s.name}
          data={toRows(TIME_PS, s.values)}
          type="linear"
          dataKey="v"
          name={s.name}
          stroke={s.color}
          strokeWidth={s.width}
          dot={false}
          isAnimationActive={false}
        />
      ))}
      {stray && (
        <Line
          data={STRAY_ROWS}
          type="linear"
          dataKey="v"
          stroke="#000"
          strokeWidth={1.2}
          dot={false}
          isAnimationActive={false}
        />
      )}
    </LineChart>
  );
}

export default function App() {
  return (
    <div style={{ position: "absolute", left: 0, top: 0, width: 650, height: 845, background: "#fff" }}>
      <div style={{ position: "absolute", left: 0, top: 0 }}>
        <RmsdPanel
          series={SERIES_A}
          yMax={0.6}
          yTicks={Y_TICKS_A}
          height={420}
          margin={{ top: 31, right: 80, bottom: 31, left: 55 }}
        />
      </div>
      <div style={{ position: "absolute", left: 0, top: 420 }}>
        <RmsdPanel
          series={SERIES_B}
          yMax={0.7}
          yTicks={Y_TICKS_B}
          height={425}
          margin={{ top: 38, right: 86, bottom: 32, left: 56 }}
          stray
        />
      </div>
      <svg
        width={650}
        height={845}
        style={{ position: "absolute", left: 0, top: 0, pointerEvents: "none" }}
        fontFamily={FONT}
      >
        <text x={9} y={27} fontSize={30} fontWeight={700}>a</text>
        <text x={11} y={455} fontSize={30} fontWeight={700}>b</text>
        <text x={30} y={201} fontSize={17} textAnchor="middle" transform="rotate(-90 30 201)" fill="#111">
          RMSD (nm)
        </text>
        <text x={30} y={627} fontSize={17} textAnchor="middle" transform="rotate(-90 30 627)" fill="#111">
          RMSD (nm)
        </text>
        <text x={313} y={421} fontSize={17} textAnchor="middle" fill="#111">Time (ps)</text>
        <text x={316} y={841} fontSize={17} textAnchor="middle" fill="#111">Time (ps)</text>
        {LABELS_A.map((l) => (
          <text key={"a" + l.text} x={571} y={l.y + 6} fontSize={17} fill="#111">
            {l.text}
          </text>
        ))}
        {LABELS_B.map((l) => (
          <text key={"b" + l.text} x={567} y={l.y + 6} fontSize={17} fill="#111">
            {l.text}
          </text>
        ))}
      </svg>
    </div>
  );
}
